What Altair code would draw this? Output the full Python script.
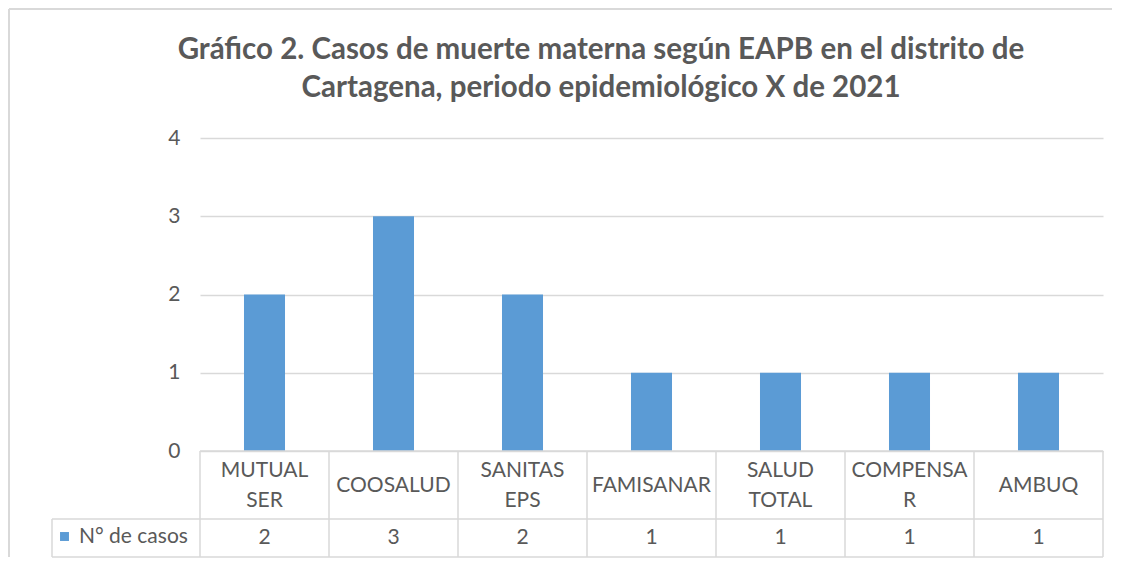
import altair as alt
import pandas as pd

categorias = ["MUTUAL\nSER", "COOSALUD", "SANITAS\nEPS", "FAMISANAR", "SALUD\nTOTAL", "COMPENSA\nR", "AMBUQ"]
casos = [2, 3, 2, 1, 1, 1, 1]
serie = "N° de casos"
titulo = ["Gráfico 2. Casos de muerte materna según EAPB en el distrito de",
          "Cartagena, periodo epidemiológico X de 2021"]

df = pd.DataFrame({"cat": categorias, "casos": casos, "serie": serie})
df_tit = pd.DataFrame({"linea": titulo, "i": list(range(len(titulo)))})
orden = categorias
FONT = "Lato"
GRAY = "#595959"
LINE = "#D9D9D9"
BLUE = "#5B9BD5"
FS = 21

xs = alt.X("cat:N", sort=orden, axis=None, scale=alt.Scale(paddingInner=0, paddingOuter=0))

# light outer frame of the chart area (top and left edges visible)
frame_top = alt.Chart(df.head(1)).mark_rule(color=LINE, strokeWidth=2).encode(
    x=alt.value(-191), x2=alt.value(912), y=alt.value(-129))
frame_left = alt.Chart(df.head(1)).mark_rule(color=LINE, strokeWidth=2).encode(
    x=alt.value(-191), y=alt.value(-129), y2=alt.value(419))

bars = alt.Chart(df).mark_bar(color=BLUE, width=alt.RelativeBandSize(0.318)).encode(
    x=xs,
    y=alt.Y("casos:Q", scale=alt.Scale(domain=[0, 4], nice=False),
            axis=alt.Axis(values=[0, 1, 2, 3, 4], format="d", title=None, domain=False, ticks=False,
                          labelFontSize=FS, labelColor=GRAY, labelFont=FONT, labelPadding=20,
                          gridColor=LINE, gridWidth=1.5)),
    color=alt.Color("serie:N", scale=alt.Scale(range=[BLUE]),
                    legend=alt.Legend(orient="none", legendX=-146, legendY=388, title=None,
                                      symbolType="square", symbolSize=80, symbolStrokeWidth=0,
                                      labelFontSize=FS, labelFont=FONT, labelColor=GRAY, labelOffset=4)),
)

# data table: header labels (vertically centred in the header row)
header = alt.Chart(df).transform_calculate(
    n="length(split(datum.cat, '\\n'))",
    ypos="347.5 - (datum.n - 1) * 15"
).mark_text(fontSize=FS, font=FONT, color=GRAY, lineBreak="\n",
            lineHeight=30, baseline="middle").encode(
    x=alt.X("cat:N", sort=orden), y=alt.Y("ypos:Q", scale=None), text="cat:N")

valores = alt.Chart(df).mark_text(fontSize=FS, font=FONT, color=GRAY, baseline="middle").encode(
    x=alt.X("cat:N", sort=orden), y=alt.value(400), text="casos:Q")

vlines = alt.Chart(df).mark_rule(color=LINE, strokeWidth=1.5).encode(
    x=alt.X("cat:N", sort=orden, bandPosition=0), y=alt.value(313), y2=alt.value(419))

vlast = alt.Chart(df.tail(1)).mark_rule(color=LINE, strokeWidth=1.5).encode(
    x=alt.X("cat:N", sort=orden, bandPosition=1), y=alt.value(313), y2=alt.value(419))

hline0 = alt.Chart(df.head(1)).mark_rule(color=LINE, strokeWidth=1.5).encode(
    x=alt.value(0), x2=alt.value(903), y=alt.value(313))
hline1 = alt.Chart(df.head(1)).mark_rule(color=LINE, strokeWidth=1.5).encode(
    x=alt.value(-148), x2=alt.value(903), y=alt.value(381))
hline2 = alt.Chart(df.head(1)).mark_rule(color=LINE, strokeWidth=1.5).encode(
    x=alt.value(-148), x2=alt.value(903), y=alt.value(419))
vleft = alt.Chart(df.head(1)).mark_rule(color=LINE, strokeWidth=1.5).encode(
    x=alt.value(-148), y=alt.value(381), y2=alt.value(419))

title = alt.Chart(df_tit).transform_calculate(
    ypos="-88 + datum.i * 38"
).mark_text(fontSize=29.5, font=FONT, fontWeight="bold", color=GRAY, baseline="middle").encode(
    x=alt.value(401), y=alt.Y("ypos:Q", scale=None), text="linea:N")

chart = alt.layer(frame_top, frame_left, bars, header, valores, vlines, vlast,
                  hline0, hline1, hline2, vleft, title).properties(
    width=903, height=313,
    padding={"left": 192, "top": 130, "right": 10, "bottom": 107},
    autosize=alt.AutoSizeParams(type="none"),
    background="white",
).configure_view(stroke=None)

chart.save("out.html", embed_options={"renderer": "svg", "actions": False})
